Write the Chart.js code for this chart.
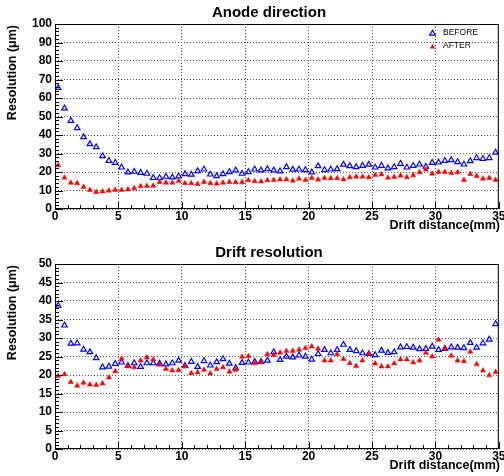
<!DOCTYPE html>
<html>
<head>
<meta charset="utf-8">
<script src="https://cdn.jsdelivr.net/npm/chart.js@4.4.1/dist/chart.umd.min.js"></script>
<style>
  body { margin: 0; background: #fff; }
  canvas { display: block; }
</style>
</head>
<body>
<canvas id="anode" width="504" height="238"></canvas>
<canvas id="drift" width="504" height="238"></canvas>
<script>
// bin centres (mm)
var driftDistance = [0.25, 0.75, 1.25, 1.75, 2.25, 2.75, 3.25, 3.75, 4.25, 4.75,
  5.25, 5.75, 6.25, 6.75, 7.25, 7.75, 8.25, 8.75, 9.25, 9.75,
  10.25, 10.75, 11.25, 11.75, 12.25, 12.75, 13.25, 13.75, 14.25, 14.75,
  15.25, 15.75, 16.25, 16.75, 17.25, 17.75, 18.25, 18.75, 19.25, 19.75,
  20.25, 20.75, 21.25, 21.75, 22.25, 22.75, 23.25, 23.75, 24.25, 24.75,
  25.25, 25.75, 26.25, 26.75, 27.25, 27.75, 28.25, 28.75, 29.25, 29.75,
  30.25, 30.75, 31.25, 31.75, 32.25, 32.75, 33.25, 33.75, 34.25, 34.75];

// Anode direction resolution (um)
var anodeBefore = [65.5, 54.4, 47.7, 43.8, 38.9, 35.1, 33.5, 28.6, 26.1, 25.0,
  22.5, 19.8, 20.2, 19.6, 19.1, 16.8, 16.8, 17.5, 17.1, 17.7,
  18.9, 18.6, 20.5, 21.4, 18.7, 17.8, 18.9, 20.0, 20.9, 19.1,
  20.0, 21.4, 20.9, 21.6, 20.9, 20.4, 22.7, 21.3, 21.4, 21.1,
  19.8, 23.2, 21.1, 21.4, 21.6, 24.0, 23.2, 22.7, 23.4, 24.0,
  22.5, 23.4, 22.0, 22.7, 24.5, 22.5, 23.4, 24.1, 22.9, 25.0,
  25.2, 26.1, 26.5, 25.4, 24.1, 25.9, 27.6, 27.2, 27.6, 30.5];
var anodeAfter = [23.6, 16.9, 14.2, 13.9, 11.9, 10.3, 9.2, 9.5, 9.9, 10.3,
  10.3, 10.6, 11.2, 12.3, 12.4, 12.6, 14.6, 14.2, 14.2, 15.1,
  13.9, 13.9, 13.5, 14.6, 13.9, 13.7, 14.2, 14.6, 14.4, 14.4,
  15.5, 15.0, 14.8, 15.5, 15.7, 15.9, 16.0, 15.3, 16.4, 15.7,
  16.8, 15.9, 16.8, 16.6, 16.6, 16.0, 17.1, 17.5, 17.5, 17.1,
  18.4, 18.7, 16.9, 17.3, 18.0, 17.1, 18.2, 19.8, 21.3, 19.1,
  20.0, 20.0, 19.5, 19.8, 15.7, 18.9, 17.8, 16.4, 16.8, 15.7];

// Drift resolution (um)
var driftBefore = [38.8, 33.4, 28.5, 28.6, 26.9, 26.2, 24.6, 22.1, 22.3, 23.0,
  23.4, 22.5, 23.2, 22.2, 23.2, 23.2, 23.1, 22.9, 23.2, 23.9,
  22.5, 23.6, 22.2, 23.8, 22.6, 23.5, 24.3, 23.1, 21.9, 23.3,
  23.4, 23.6, 23.6, 23.9, 26.2, 24.1, 25.0, 24.8, 25.3, 25.0,
  24.2, 25.7, 26.8, 25.9, 26.8, 28.2, 26.8, 26.5, 25.9, 25.7,
  25.4, 26.6, 26.0, 26.2, 27.5, 27.6, 27.4, 27.0, 27.1, 27.7,
  26.8, 27.1, 27.5, 27.4, 27.3, 28.7, 27.4, 28.6, 29.6, 33.8];
var driftAfter = [19.7, 20.2, 18.1, 17.1, 17.9, 17.4, 17.3, 17.7, 19.3, 21.0,
  24.4, 22.3, 22.1, 23.9, 24.7, 24.2, 22.8, 21.6, 21.2, 21.3,
  22.3, 20.5, 20.7, 21.4, 20.4, 21.6, 22.1, 20.9, 21.4, 24.9,
  25.1, 23.2, 23.4, 25.6, 25.4, 26.0, 26.5, 26.5, 26.8, 27.3,
  27.7, 27.1, 23.9, 23.9, 25.6, 24.3, 23.2, 22.4, 23.9, 25.7,
  23.1, 22.3, 22.3, 23.1, 24.2, 24.2, 23.4, 23.9, 26.0, 25.0,
  29.5, 27.2, 25.2, 23.9, 23.7, 26.3, 22.9, 21.2, 19.9, 20.8];

var legendLabels = ['BEFORE', 'AFTER'];

Chart.defaults.font.family = '"Liberation Sans", Arial, Helvetica, sans-serif';
Chart.defaults.color = '#000';

function toPoints(xs, ys) {
  return xs.map(function (x, i) { return {x: x, y: ys[i]}; });
}

function triangle(ctx, x, y, r) {
  ctx.beginPath();
  ctx.moveTo(x, y - r);
  ctx.lineTo(x + r * 0.866, y + r * 0.5);
  ctx.lineTo(x - r * 0.866, y + r * 0.5);
  ctx.closePath();
}

// ROOT-like frame, inward ticks, titles and legend
var rootStyle = {
  id: 'rootStyle',
  afterDraw: function (chart, args, o) {
    var ctx = chart.ctx, a = chart.chartArea;
    var x = chart.scales.x, y = chart.scales.y;
    ctx.save();
    ctx.strokeStyle = '#000';
    ctx.lineWidth = 1;
    ctx.beginPath();
    for (var v = 0; v <= o.yMax; v += o.yMinor) {
      var py = Math.round(y.getPixelForValue(v)) + 0.5;
      var len = (v % o.yStep === 0) ? 8 : 4;
      ctx.moveTo(a.left, py);
      ctx.lineTo(a.left + len, py);
    }
    for (var t = 0; t <= 35; t += 1) {
      var px = Math.round(x.getPixelForValue(t)) + 0.5;
      ctx.moveTo(px, a.bottom);
      ctx.lineTo(px, a.bottom - (t % 5 === 0 ? 7 : 4));
    }
    ctx.stroke();
    ctx.strokeRect(a.left + 0.5, a.top + 0.5, a.right - a.left - 1, a.bottom - a.top - 1);

    ctx.fillStyle = '#000';
    ctx.font = 'bold 15px "Liberation Sans", Arial, sans-serif';
    ctx.textAlign = 'center';
    ctx.textBaseline = 'middle';
    ctx.fillText(o.title, 269, a.top - 11.5);

    ctx.font = 'bold 12.5px "Liberation Sans", Arial, sans-serif';
    ctx.textAlign = 'right';
    ctx.fillText('Drift distance(mm)', 500, a.bottom + 17);

    ctx.save();
    ctx.translate(13, a.top + 1);
    ctx.rotate(-Math.PI / 2);
    ctx.fillText('Resolution (\u03bcm)', 0, 0);
    ctx.restore();

    if (o.legend) {
      ctx.font = '8.5px "Liberation Sans", Arial, sans-serif';
      ctx.textAlign = 'left';
      ctx.fillText(legendLabels[0], 443, 33);
      ctx.fillText(legendLabels[1], 443, 45.5);
      ctx.strokeStyle = '#0000ff';
      ctx.lineWidth = 1.2;
      triangle(ctx, 432.5, 33.5, 3.2);
      ctx.stroke();
      ctx.fillStyle = '#ff0000';
      triangle(ctx, 432.5, 47, 3);
      ctx.fill();
    }
    ctx.restore();
  }
};

function makeChart(id, opts) {
  new Chart(document.getElementById(id), {
    type: 'scatter',
    data: {
      datasets: [{
        label: legendLabels[1],
        data: toPoints(driftDistance, opts.after),
        pointStyle: 'triangle',
        radius: 3,
        backgroundColor: '#ff0000',
        borderColor: '#ff0000',
        borderWidth: 0.5
      }, {
        label: legendLabels[0],
        data: toPoints(driftDistance, opts.before),
        pointStyle: 'triangle',
        radius: 3.2,
        backgroundColor: 'rgba(0,0,0,0)',
        borderColor: '#0000ff',
        borderWidth: 1.2
      }]
    },
    options: {
      responsive: false,
      animation: false,
      layout: { padding: { top: opts.top, right: 4, left: 0, bottom: 0 } },
      scales: {
        x: {
          type: 'linear', min: 0, max: 35,
          ticks: { stepSize: 5, padding: 0, maxRotation: 0, autoSkip: false,
                   font: { size: 12, weight: 'bold' } },
          grid: { color: '#555', lineWidth: 1, drawTicks: false },
          border: { display: false, dash: [1, 2] },
          afterFit: function (s) { s.height = opts.xh; s.paddingLeft = 0; s.paddingRight = 0; }
        },
        y: {
          min: 0, max: opts.yMax,
          ticks: { stepSize: opts.yStep, padding: 3, autoSkip: false,
                   font: { size: 12, weight: 'bold' } },
          grid: { color: '#555', lineWidth: 1, drawTicks: false },
          border: { display: false, dash: [1, 2] },
          afterFit: function (s) { s.width = 55; s.paddingTop = 0; s.paddingBottom = 0; }
        }
      },
      plugins: {
        legend: { display: false },
        tooltip: { enabled: false },
        rootStyle: { title: opts.title, yMax: opts.yMax, yStep: opts.yStep,
                     yMinor: opts.yMinor, legend: opts.legend }
      }
    },
    plugins: [rootStyle]
  });
}

makeChart('anode', { title: 'Anode direction', before: anodeBefore, after: anodeAfter,
  yMax: 100, yStep: 10, yMinor: 2, top: 24, xh: 29, legend: true });
makeChart('drift', { title: 'Drift resolution', before: driftBefore, after: driftAfter,
  yMax: 50, yStep: 5, yMinor: 1, top: 26, xh: 27, legend: false });
</script>
</body>
</html>
